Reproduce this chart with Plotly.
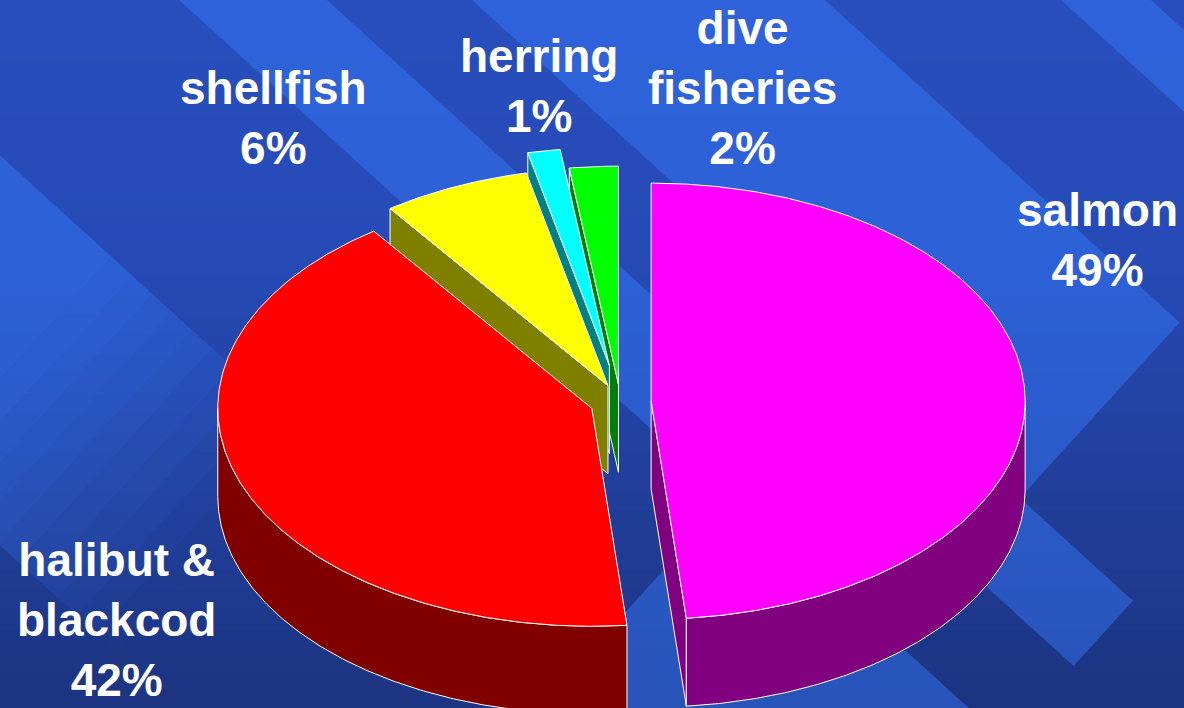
import math
import plotly.graph_objects as go

# ---- data ----
categories = ["salmon", "halibut & blackcod", "shellfish", "herring", "dive fisheries"]
shares = [48.5, 41.6, 6.4, 1.4, 2.1]          # percent of total
top_colors = ["#FF00FF", "#FF0000", "#FFFF00", "#00FFFF", "#00FF00"]
side_colors = ["#800080", "#800000", "#808000", "#008080", "#008000"]
pulls = [0.082, 0.082, 0.082, 0.17, 0.082]     # explode fraction of radius

# ---- label layout (pixel positions of label blocks) ----
label_wrap = {"halibut & blackcod": "halibut &amp;<br>blackcod", "dive fisheries": "dive<br>fisheries"}
label_pos = [(1097, 240), (116, 620), (273, 118), (539, 86), (742, 88)]

W, H = 1184, 708
CX, CY = 620.5, 402.0   # pie centre (pixels)
RX, RY = 374.0, 218.0   # top ellipse radii
DEPTH = 88.0            # thickness

fig = go.Figure()

# ---- background: vertical gradient + diagonal light bands ----
def lerp(a, b, t):
    return tuple(a[i] + (b[i] - a[i]) * t for i in range(3))

stops = [(0, (40, 78, 189)), (250, (38, 75, 183)), (H, (28, 52, 128))]
def base_color(y):
    for (y0, c0), (y1, c1) in zip(stops[:-1], stops[1:]):
        if y <= y1:
            return lerp(c0, c1, (y - y0) / (y1 - y0))
    return stops[-1][1]

shapes = []
N = 36
for i in range(N):
    y0 = H * i / N
    y1 = H * (i + 1) / N + 0.6
    c = base_color((y0 + y1) / 2)
    shapes.append(dict(type="rect", xref="x", yref="y", x0=-5, x1=W + 5, y0=y0, y1=y1,
                       fillcolor="rgb(%d,%d,%d)" % tuple(round(v) for v in c),
                       line=dict(width=0), layer="below"))

K = 1.1  # stripes run along (K, 1)
def band_path(c_lo, c_hi, u0, u1):
    def p(cv, u):
        y = (u - K * cv) / (K * K + 1)
        return cv + K * y, y
    pts = [p(c_lo, u0), p(c_hi, u0), p(c_hi, u1), p(c_lo, u1)]
    return "M " + " L ".join("%.1f,%.1f" % q for q in pts) + " Z"

def add_band(c_lo, c_hi, u0, u1, alpha=0.45):
    shapes.append(dict(type="path", xref="x", yref="y", path=band_path(c_lo, c_hi, u0, u1),
                       fillcolor="rgba(55,125,255,%.3f)" % alpha, line=dict(width=0),
                       layer="below"))

# left band fading out downwards
add_band(-600, -171, -3000, 380)
steps = 10
for k in range(steps):
    u0 = 380 + 400 * k / steps
    u1 = 380 + 400 * (k + 1) / steps + 0.5
    add_band(-600, -171, u0, u1, 0.45 * (1 - (k + 0.5) / steps))
add_band(179, 327, -3000, 1500)
add_band(472, 825, -3000, 1620)
add_band(1061, 1151, -3000, 4000)
add_band(341, 472, 1500, 1847)
add_band(-220, 190, 1300, 4000)

# ---- 3D exploded pie ----
total = sum(shares)
slices = []
start = 0.0
for i, v in enumerate(shares):
    sweep = 360.0 * v / total
    a0, a1 = start, start + sweep
    mid = math.radians((a0 + a1) / 2)
    cx = CX + pulls[i] * RX * math.sin(mid)
    cy = CY - pulls[i] * RY * math.cos(mid)
    slices.append(dict(i=i, a0=a0, a1=a1, cx=cx, cy=cy, depth_key=math.cos(mid)))
    start = a1

def rim(cx, cy, deg, dz=0.0):
    t = math.radians(deg)
    return cx + RX * math.sin(t), cy - RY * math.cos(t) + dz

def arc(cx, cy, d0, d1, dz=0.0):
    n = max(2, int(abs(d1 - d0) * 2) + 1)
    return [rim(cx, cy, d0 + (d1 - d0) * k / (n - 1), dz) for k in range(n)]

def add_poly(pts, fill):
    xs = [p[0] for p in pts] + [pts[0][0]]
    ys = [p[1] for p in pts] + [pts[0][1]]
    fig.add_trace(go.Scatter(x=xs, y=ys, mode="lines", fill="toself", fillcolor=fill,
                             line=dict(color="white", width=1), hoverinfo="skip",
                             showlegend=False))

for s in sorted(slices, key=lambda d: -d["depth_key"]):
    i, a0, a1, cx, cy = s["i"], s["a0"], s["a1"], s["cx"], s["cy"]
    side = side_colors[i]
    for ang, nrm in ((a0, a0 - 90), (a1, a1 + 90)):
        if math.cos(math.radians(nrm)) < -1e-6:
            pt, pb = rim(cx, cy, ang), rim(cx, cy, ang, DEPTH)
            add_poly([(cx, cy), pt, pb, (cx, cy + DEPTH)], side)
    t0, t1 = max(a0, 90.0), min(a1, 270.0)
    if t0 < t1:
        add_poly(arc(cx, cy, t0, t1) + arc(cx, cy, t1, t0, DEPTH), side)
    add_poly([(cx, cy)] + arc(cx, cy, a0, a1), top_colors[i])

# ---- labels ----
annotations = []
for i, name in enumerate(categories):
    pct = int(100.0 * shares[i] / total + 0.5)
    txt = label_wrap.get(name, name) + "<br>%d%%" % pct
    x, y = label_pos[i]
    annotations.append(dict(x=x, y=y, xref="x", yref="y", text="<b>%s</b>" % txt,
                            showarrow=False, xanchor="center", yanchor="middle",
                            font=dict(family="Liberation Sans, Arial, sans-serif", size=46,
                                      color="white")))

fig.update_layout(
    width=W, height=H, autosize=False,
    margin=dict(l=0, r=0, t=0, b=0, pad=0),
    paper_bgcolor="rgb(39,77,187)", plot_bgcolor="rgba(0,0,0,0)",
    xaxis=dict(range=[0, W], visible=False, fixedrange=True),
    yaxis=dict(range=[H, 0], visible=False, fixedrange=True),
    shapes=shapes, annotations=annotations, showlegend=False,
)

fig.write_html("out.html", config={"displayModeBar": False, "staticPlot": True},
               post_script="document.body.style.margin='0';document.body.style.overflow='hidden';")
